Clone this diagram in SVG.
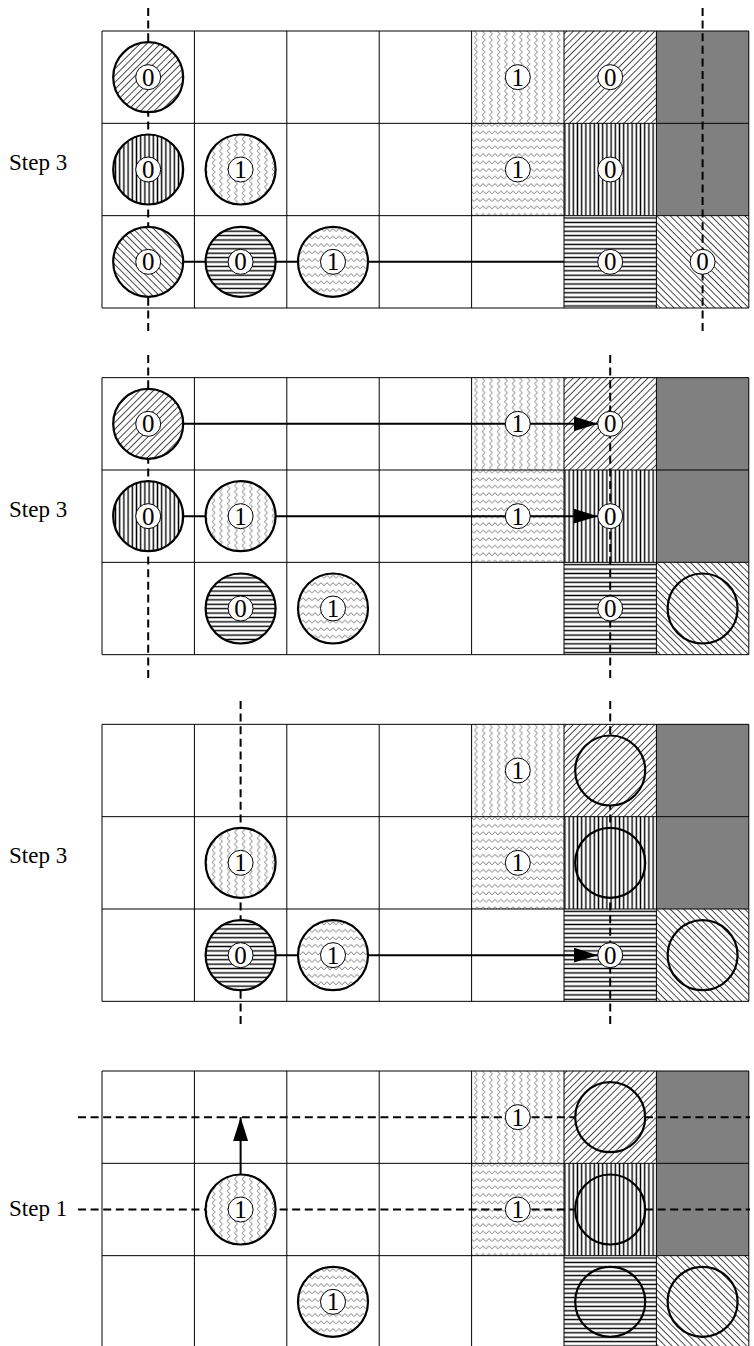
<svg xmlns="http://www.w3.org/2000/svg" xmlns:xlink="http://www.w3.org/1999/xlink" width="754" height="1346" viewBox="0 0 754 1346">
<style>
.grid{fill:none;stroke:#000;stroke-width:1}
.big{stroke:#000;stroke-width:2.2}
.lab{fill:#fff;stroke:#000;stroke-width:1}
.lt{font-family:"Liberation Serif","Times New Roman",serif;font-size:25px;text-anchor:middle;fill:#000}
.step{font-family:"Liberation Serif","Times New Roman",serif;font-size:23px;fill:#000}
.guide{stroke:#000;stroke-width:2;stroke-dasharray:8 4.6;fill:none}
.conn{stroke:#000;stroke-width:2;fill:none}
.arr{stroke:#000;stroke-width:2;fill:none;marker-end:url(#ah)}
</style>
<defs>
<marker id="ah" markerUnits="userSpaceOnUse" markerWidth="24" markerHeight="15" refX="24" refY="7.5" orient="auto"><path d="M0,0 L24,7.5 L0,15 Z" fill="#000"/></marker>
<pattern id="zv" width="7.5" height="6" patternUnits="userSpaceOnUse"><rect width="7.5" height="6" fill="#fff"/><path d="M2,0 L5,3 L2,6" fill="none" stroke="#6e6e6e" stroke-width="0.9"/></pattern>
<pattern id="zh" width="6" height="7.5" patternUnits="userSpaceOnUse"><rect width="6" height="7.5" fill="#fff"/><path d="M0,5.5 L3,2.5 L6,5.5" fill="none" stroke="#6e6e6e" stroke-width="0.9"/></pattern>
<pattern id="vl" width="4.2" height="10" patternUnits="userSpaceOnUse"><rect width="4.2" height="10" fill="#fff"/><line x1="2.1" y1="0" x2="2.1" y2="10" stroke="#000" stroke-width="1.4"/></pattern>
<pattern id="hl" width="10" height="4.4" patternUnits="userSpaceOnUse"><rect width="10" height="4.4" fill="#fff"/><line x1="0" y1="2.2" x2="10" y2="2.2" stroke="#000" stroke-width="1.4"/></pattern>
<pattern id="fd" width="4.8" height="10" patternUnits="userSpaceOnUse" patternTransform="rotate(45)"><rect width="4.8" height="10" fill="#fff"/><line x1="2.4" y1="0" x2="2.4" y2="10" stroke="#333" stroke-width="0.9"/></pattern>
<pattern id="bd" width="4.8" height="10" patternUnits="userSpaceOnUse" patternTransform="rotate(-45)"><rect width="4.8" height="10" fill="#fff"/><line x1="2.4" y1="0" x2="2.4" y2="10" stroke="#333" stroke-width="0.9"/></pattern>
<g id="board">
<rect x="102" y="0" width="646.8" height="277" fill="#fff"/>
<rect x="471.6" y="0" width="92.4" height="92.33" fill="url(#zv)"/>
<rect x="564" y="0" width="92.4" height="92.33" fill="url(#fd)"/>
<rect x="656.4" y="0" width="92.4" height="92.33" fill="#808080"/>
<rect x="471.6" y="92.33" width="92.4" height="92.34" fill="url(#zh)"/>
<rect x="564" y="92.33" width="92.4" height="92.34" fill="url(#vl)"/>
<rect x="656.4" y="92.33" width="92.4" height="92.34" fill="#808080"/>
<rect x="564" y="184.67" width="92.4" height="92.33" fill="url(#hl)"/>
<rect x="656.4" y="184.67" width="92.4" height="92.33" fill="url(#bd)"/>
<path class="grid" d="M102,0 V277 M194.4,0 V277 M286.8,0 V277 M379.2,0 V277 M471.6,0 V277 M564,0 V277 M656.4,0 V277 M748.8,0 V277 M102,0 H748.8 M102,92.33 H748.8 M102,184.67 H748.8 M102,277 H748.8"/>
</g>
</defs>

<g id="boards">
<use xlink:href="#board" href="#board" transform="translate(0,31)"/>
<use xlink:href="#board" href="#board" transform="translate(0,377.67)"/>
<use xlink:href="#board" href="#board" transform="translate(0,724.33)"/>
<use xlink:href="#board" href="#board" transform="translate(0,1071)"/>
</g>

<g id="guides">
<line class="guide" x1="148.2" y1="8" x2="148.2" y2="335"/>
<line class="guide" x1="702.6" y1="8" x2="702.6" y2="335"/>
<line class="guide" x1="148.2" y1="355" x2="148.2" y2="681"/>
<line class="guide" x1="610.2" y1="355" x2="610.2" y2="681"/>
<line class="guide" x1="240.6" y1="701" x2="240.6" y2="1027"/>
<line class="guide" x1="610.2" y1="701" x2="610.2" y2="1027"/>
<line class="guide" x1="78" y1="1117.17" x2="750" y2="1117.17"/>
<line class="guide" x1="78" y1="1209.5" x2="750" y2="1209.5"/>
</g>

<g id="connectors">
<g transform="translate(0,31)"><line class="conn" x1="183.2" y1="230.83" x2="564" y2="230.83"/></g>
<g transform="translate(0,377.67)"><line class="arr" x1="183.2" y1="46.17" x2="597.7" y2="46.17"/><line class="arr" x1="183.2" y1="138.5" x2="597.7" y2="138.5"/></g>
<g transform="translate(0,724.33)"><line class="arr" x1="275.6" y1="230.83" x2="597.7" y2="230.83"/></g>
<g transform="translate(0,1071)"><line class="arr" x1="240.6" y1="103.5" x2="240.6" y2="46.17"/></g>
</g>

<g id="panel1" transform="translate(0,31)">
<g id="p1-c00"><circle class="big" cx="148.2" cy="46.17" r="35" fill="url(#fd)"/><circle class="lab" cx="148.2" cy="46.17" r="12.5"/><text class="lt" x="148.2" y="54.6">0</text></g>
<g id="p1-c10"><circle class="big" cx="148.2" cy="138.5" r="35" fill="url(#vl)"/><circle class="lab" cx="148.2" cy="138.5" r="12.5"/><text class="lt" x="148.2" y="146.9">0</text></g>
<g id="p1-c11"><circle class="big" cx="240.6" cy="138.5" r="35" fill="url(#zv)"/><circle class="lab" cx="240.6" cy="138.5" r="12.5"/><text class="lt" x="240.6" y="146.9">1</text></g>
<g id="p1-c20"><circle class="big" cx="148.2" cy="230.83" r="35" fill="url(#bd)"/><circle class="lab" cx="148.2" cy="230.83" r="12.5"/><text class="lt" x="148.2" y="239.2">0</text></g>
<g id="p1-c21"><circle class="big" cx="240.6" cy="230.83" r="35" fill="url(#hl)"/><circle class="lab" cx="240.6" cy="230.83" r="12.5"/><text class="lt" x="240.6" y="239.2">0</text></g>
<g id="p1-c22"><circle class="big" cx="333" cy="230.83" r="35" fill="url(#zh)"/><circle class="lab" cx="333" cy="230.83" r="12.5"/><text class="lt" x="333" y="239.2">1</text></g>
<g id="p1-l04"><circle class="lab" cx="517.8" cy="46.17" r="12.5"/><text class="lt" x="517.8" y="54.6">1</text></g>
<g id="p1-l05"><circle class="lab" cx="610.2" cy="46.17" r="12.5"/><text class="lt" x="610.2" y="54.6">0</text></g>
<g id="p1-l14"><circle class="lab" cx="517.8" cy="138.5" r="12.5"/><text class="lt" x="517.8" y="146.9">1</text></g>
<g id="p1-l15"><circle class="lab" cx="610.2" cy="138.5" r="12.5"/><text class="lt" x="610.2" y="146.9">0</text></g>
<g id="p1-l25"><circle class="lab" cx="610.2" cy="230.83" r="12.5"/><text class="lt" x="610.2" y="239.2">0</text></g>
<g id="p1-l26"><circle class="lab" cx="702.6" cy="230.83" r="12.5"/><text class="lt" x="702.6" y="239.2">0</text></g>
</g>

<g id="panel2" transform="translate(0,377.67)">
<g id="p2-c00"><circle class="big" cx="148.2" cy="46.17" r="35" fill="url(#fd)"/><circle class="lab" cx="148.2" cy="46.17" r="12.5"/><text class="lt" x="148.2" y="54.6">0</text></g>
<g id="p2-c10"><circle class="big" cx="148.2" cy="138.5" r="35" fill="url(#vl)"/><circle class="lab" cx="148.2" cy="138.5" r="12.5"/><text class="lt" x="148.2" y="146.9">0</text></g>
<g id="p2-c11"><circle class="big" cx="240.6" cy="138.5" r="35" fill="url(#zv)"/><circle class="lab" cx="240.6" cy="138.5" r="12.5"/><text class="lt" x="240.6" y="146.9">1</text></g>
<g id="p2-c21"><circle class="big" cx="240.6" cy="230.83" r="35" fill="url(#hl)"/><circle class="lab" cx="240.6" cy="230.83" r="12.5"/><text class="lt" x="240.6" y="239.2">0</text></g>
<g id="p2-c22"><circle class="big" cx="333" cy="230.83" r="35" fill="url(#zh)"/><circle class="lab" cx="333" cy="230.83" r="12.5"/><text class="lt" x="333" y="239.2">1</text></g>
<g id="p2-c26"><circle class="big" cx="702.6" cy="230.83" r="35" fill="url(#bd)"/></g>
<g id="p2-l04"><circle class="lab" cx="517.8" cy="46.17" r="12.5"/><text class="lt" x="517.8" y="54.6">1</text></g>
<g id="p2-l05"><circle class="lab" cx="610.2" cy="46.17" r="12.5"/><text class="lt" x="610.2" y="54.6">0</text></g>
<g id="p2-l14"><circle class="lab" cx="517.8" cy="138.5" r="12.5"/><text class="lt" x="517.8" y="146.9">1</text></g>
<g id="p2-l15"><circle class="lab" cx="610.2" cy="138.5" r="12.5"/><text class="lt" x="610.2" y="146.9">0</text></g>
<g id="p2-l25"><circle class="lab" cx="610.2" cy="230.83" r="12.5"/><text class="lt" x="610.2" y="239.2">0</text></g>
</g>

<g id="panel3" transform="translate(0,724.33)">
<g id="p3-c11"><circle class="big" cx="240.6" cy="138.5" r="35" fill="url(#zv)"/><circle class="lab" cx="240.6" cy="138.5" r="12.5"/><text class="lt" x="240.6" y="146.9">1</text></g>
<g id="p3-c21"><circle class="big" cx="240.6" cy="230.83" r="35" fill="url(#hl)"/><circle class="lab" cx="240.6" cy="230.83" r="12.5"/><text class="lt" x="240.6" y="239.2">0</text></g>
<g id="p3-c22"><circle class="big" cx="333" cy="230.83" r="35" fill="url(#zh)"/><circle class="lab" cx="333" cy="230.83" r="12.5"/><text class="lt" x="333" y="239.2">1</text></g>
<g id="p3-c05"><circle class="big" cx="610.2" cy="46.17" r="35" fill="url(#fd)"/></g>
<g id="p3-c15"><circle class="big" cx="610.2" cy="138.5" r="35" fill="url(#vl)"/></g>
<g id="p3-c26"><circle class="big" cx="702.6" cy="230.83" r="35" fill="url(#bd)"/></g>
<g id="p3-l04"><circle class="lab" cx="517.8" cy="46.17" r="12.5"/><text class="lt" x="517.8" y="54.6">1</text></g>
<g id="p3-l14"><circle class="lab" cx="517.8" cy="138.5" r="12.5"/><text class="lt" x="517.8" y="146.9">1</text></g>
<g id="p3-l25"><circle class="lab" cx="610.2" cy="230.83" r="12.5"/><text class="lt" x="610.2" y="239.2">0</text></g>
</g>

<g id="panel4" transform="translate(0,1071)">
<g id="p4-c11"><circle class="big" cx="240.6" cy="138.5" r="35" fill="url(#zv)"/><circle class="lab" cx="240.6" cy="138.5" r="12.5"/><text class="lt" x="240.6" y="146.9">1</text></g>
<g id="p4-c22"><circle class="big" cx="333" cy="230.83" r="35" fill="url(#zh)"/><circle class="lab" cx="333" cy="230.83" r="12.5"/><text class="lt" x="333" y="239.2">1</text></g>
<g id="p4-c05"><circle class="big" cx="610.2" cy="46.17" r="35" fill="url(#fd)"/></g>
<g id="p4-c15"><circle class="big" cx="610.2" cy="138.5" r="35" fill="url(#vl)"/></g>
<g id="p4-c25"><circle class="big" cx="610.2" cy="230.83" r="35" fill="url(#hl)"/></g>
<g id="p4-c26"><circle class="big" cx="702.6" cy="230.83" r="35" fill="url(#bd)"/></g>
<g id="p4-l04"><circle class="lab" cx="517.8" cy="46.17" r="12.5"/><text class="lt" x="517.8" y="54.6">1</text></g>
<g id="p4-l14"><circle class="lab" cx="517.8" cy="138.5" r="12.5"/><text class="lt" x="517.8" y="146.9">1</text></g>
</g>

<g id="step-labels">
<text class="step" x="9" y="170">Step 3</text>
<text class="step" x="9" y="516.7">Step 3</text>
<text class="step" x="9" y="863.3">Step 3</text>
<text class="step" x="9" y="1216">Step 1</text>
</g>
</svg>
